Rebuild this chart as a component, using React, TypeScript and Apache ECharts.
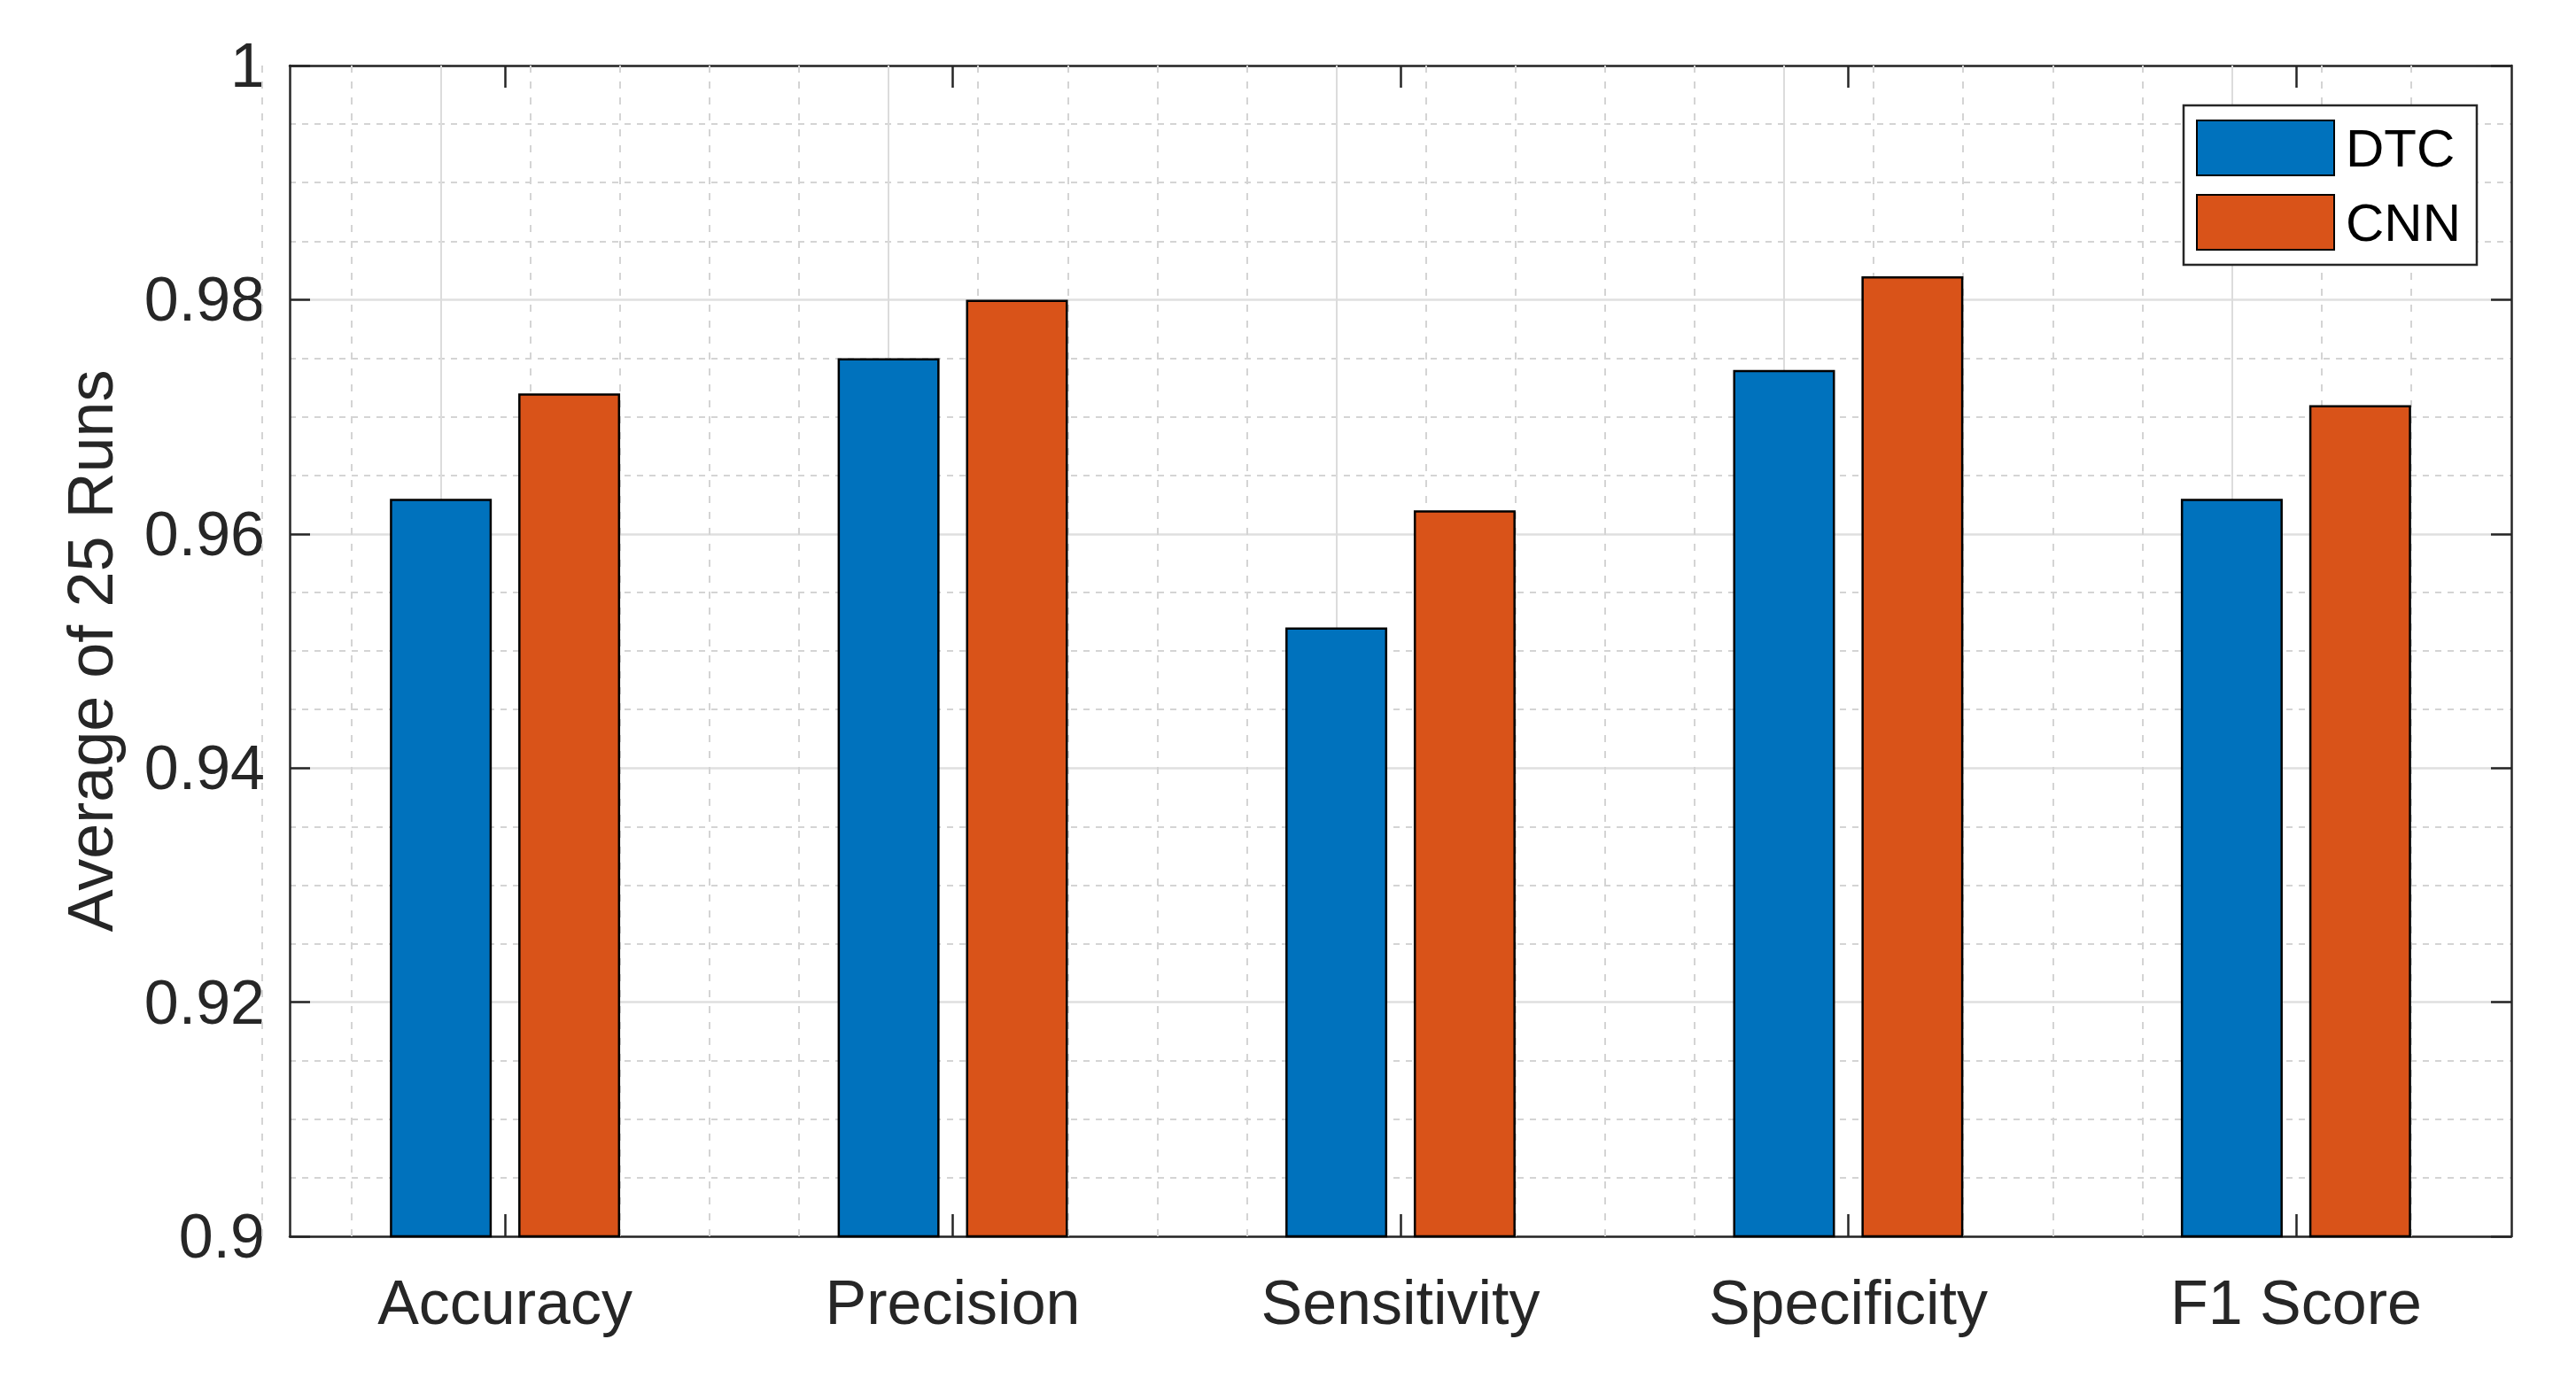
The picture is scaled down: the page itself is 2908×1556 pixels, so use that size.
import React, { useEffect, useRef } from "react";
import * as echarts from "echarts";

const categories = ["Accuracy", "Precision", "Sensitivity", "Specificity", "F1 Score"];
const seriesNames = ["DTC", "CNN"];
const dtcValues = [0.963, 0.975, 0.952, 0.974, 0.963];
const cnnValues = [0.972, 0.98, 0.962, 0.982, 0.971];
const yMin = 0.9;
const yMax = 1;
const yInterval = 0.02;
const xMin = 0.519;
const xMax = 5.481;
const yLabel = "Average of 25 Runs";

export default function App() {
  const ref = useRef<HTMLDivElement>(null);
  useEffect(() => {
    const chart = echarts.init(ref.current!, null, { renderer: "svg" });
    const axisColor = "#262626";
    const font = "'Liberation Sans', Arial, Helvetica, sans-serif";
    const catPositions = categories.map((_, i) => i + 1);
    const minorX: number[] = [];
    for (let k = 3; k <= 27; k++) {
      if (k % 5 !== 0) minorX.push(+(k * 0.2).toFixed(1));
    }
    const axisLine = { show: true, onZero: false, lineStyle: { color: axisColor, width: 2.5 } };
    const tickStyle = { color: axisColor, width: 2.5 };
    const yFormatter = (v: number) => String(+v.toFixed(2));

    const option: any = {
      animation: false,
      backgroundColor: "#ffffff",
      textStyle: { fontFamily: font },
      grid: { left: 327, right: 73, top: 74, bottom: 160, containLabel: false, outerBoundsMode: "none" },
      legend: {
        data: seriesNames,
        orient: "vertical",
        left: 2465,
        top: 119,
        padding: [16, 18, 16, 14],
        itemWidth: 155,
        itemHeight: 62,
        itemGap: 20,
        icon: "rect",
        backgroundColor: "#ffffff",
        borderColor: axisColor,
        borderWidth: 2.5,
        borderRadius: 0,
        selectedMode: false,
        textStyle: { fontSize: 60, color: "#000000", fontFamily: font, padding: [0, 0, 0, 8] },
      },
      xAxis: [
        {
          type: "value",
          position: "bottom",
          min: xMin,
          max: xMax,
          axisLine,
          axisTick: { show: true, inside: true, length: 25, customValues: catPositions, lineStyle: tickStyle },
          axisLabel: {
            show: true,
            customValues: catPositions,
            formatter: (v: number) => categories[Math.round(v) - 1] ?? "",
            margin: 40,
            fontSize: 70,
            color: axisColor,
            fontFamily: font,
          },
          splitLine: { show: false },
          minorSplitLine: { show: false },
        },
        {
          type: "value",
          position: "top",
          min: xMin,
          max: xMax,
          axisLine,
          axisTick: { show: true, inside: true, length: 25, customValues: catPositions, lineStyle: tickStyle },
          axisLabel: { show: false },
          splitLine: { show: false },
        },
      ],
      yAxis: [
        {
          type: "value",
          position: "left",
          min: yMin,
          max: yMax,
          interval: yInterval,
          name: yLabel,
          nameLocation: "middle",
          nameGap: 189,
          nameTextStyle: { fontSize: 72, color: axisColor, fontFamily: font },
          axisLine,
          axisTick: { show: true, inside: true, length: 23, lineStyle: tickStyle },
          axisLabel: { margin: 28, fontSize: 70, color: axisColor, fontFamily: font, formatter: yFormatter },
          splitLine: { show: true, lineStyle: { color: "#dfdfdf", width: 2.5 } },
          minorTick: { show: false, splitNumber: 4 },
          minorSplitLine: { show: true, lineStyle: { color: "#d4d4d4", width: 2, type: [7, 7] } },
        },
        {
          type: "value",
          position: "right",
          min: yMin,
          max: yMax,
          interval: yInterval,
          axisLine,
          axisTick: { show: true, inside: true, length: 23, lineStyle: tickStyle },
          axisLabel: { show: false },
          splitLine: { show: false },
        },
      ],
      series: [
        {
          name: seriesNames[0],
          type: "bar",
          xAxisIndex: 0,
          yAxisIndex: 0,
          data: dtcValues.map((v, i) => [catPositions[i], v]),
          barWidth: 115,
          barGap: "26%",
          itemStyle: { color: "#0072BD", borderColor: "#000000", borderWidth: 2.5 },
          markLine: {
            silent: true,
            symbol: "none",
            z: 1,
            label: { show: false },
            data: [
              ...catPositions.map((x) => ({ xAxis: x, lineStyle: { color: "#dcdcdc", width: 2, type: "solid" } })),
              ...minorX.map((x) => ({ xAxis: x, lineStyle: { color: "#d4d4d4", width: 2, type: [8, 10] } })),
            ],
          },
        },
        {
          name: seriesNames[1],
          type: "bar",
          xAxisIndex: 0,
          yAxisIndex: 0,
          data: cnnValues.map((v, i) => [catPositions[i], v]),
          barWidth: 115,
          barGap: "26%",
          itemStyle: { color: "#D95319", borderColor: "#000000", borderWidth: 2.5 },
        },
      ],
    };
    chart.setOption(option);
    return () => chart.dispose();
  }, []);
  return (
    <div
      ref={ref}
      style={{ position: "fixed", left: 0, top: 0, width: 2908, height: 1556, background: "#fff" }}
    />
  );
}
